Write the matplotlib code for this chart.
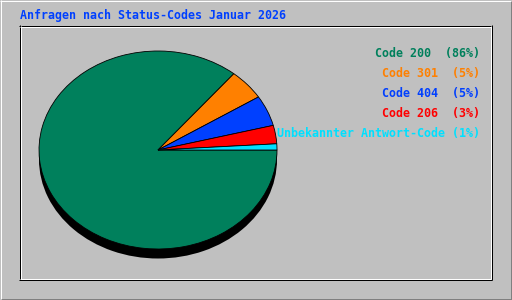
import matplotlib
matplotlib.use("Agg")
import matplotlib.pyplot as plt

title = "Anfragen nach Status-Codes Januar 2026"
labels = ["Code 200  (86%)", "Code 301  (5%)", "Code 404  (5%)", "Code 206  (3%)",
          "Unbekannter Antwort-Code (1%)"]
values = [86, 5, 5, 3, 1]
colors = ["#00805C", "#FF8000", "#0040FF", "#FF0000", "#00E0FF"]

W, H = 512, 300
fig = plt.figure(figsize=(W / 100, H / 100), dpi=100, facecolor="#C0C0C0")

# pie axes (ellipse via non-equal aspect)
pie_left, pie_right, pie_top, pie_bottom = 39, 277, 51, 260
rx_px = (pie_right - pie_left) / 2
ry_px = 99.0
axp = fig.add_axes([pie_left / W, (H - pie_bottom) / H,
                    (pie_right - pie_left) / W, (pie_bottom - pie_top) / H], zorder=1)
depth = 9.5 / ry_px
axp.pie([1], colors=["black"], radius=1, center=(0, -depth), startangle=0,
        wedgeprops=dict(linewidth=0))
axp.pie(values, colors=colors, radius=1, startangle=0, counterclock=False,
        wedgeprops=dict(edgecolor="black", linewidth=0.6))
axp.set_aspect("auto")
axp.set_xlim(-1, 1)
axp.set_ylim(1 - (pie_bottom - pie_top) / ry_px, 1)
axp.axis("off")

# overlay axes in pixel coordinates for frames and text
ax = fig.add_axes([0, 0, 1, 1], zorder=2)
ax.set_xlim(0, W)
ax.set_ylim(H, 0)
ax.axis("off")
ax.patch.set_visible(False)

lw = 0.72
def hline(y, x0, x1, c):
    ax.plot([x0, x1 + 1], [y + 0.5, y + 0.5], color=c, lw=lw, solid_capstyle="butt")
def vline(x, y0, y1, c):
    ax.plot([x + 0.5, x + 0.5], [y0, y1 + 1], color=c, lw=lw, solid_capstyle="butt")

# outer raised frame
hline(0, 0, W - 1, "white"); vline(0, 0, H - 1, "white")
hline(H - 2, 1, W - 1, "#808080"); vline(W - 2, 1, H - 1, "#808080")
hline(H - 1, 0, W - 1, "black"); vline(W - 1, 0, H - 1, "black")

# inner frame: black outer, white inner
x0, y0, x1, y1 = 19, 25, 491, 279
hline(y0, x0, x1, "black"); hline(y1, x0, x1, "black")
vline(x0, y0, y1, "black"); vline(x1, y0, y1, "black")
hline(y0 + 1, x0 + 1, x1 - 1, "white"); hline(y1 - 1, x0 + 1, x1 - 1, "white")
vline(x0 + 1, y0 + 1, y1 - 1, "white"); vline(x1 - 1, y0 + 1, y1 - 1, "white")

font = dict(family="DejaVu Sans Mono", fontweight="bold", fontsize=8.4)
ax.text(20, 15, title, color="#0040FF", ha="left", va="center", **font)
for i, (lab, c) in enumerate(zip(labels, colors)):
    ax.text(480, 54 + 20 * i, lab, color=c, ha="right", va="center", **font)

fig.savefig("out.png", dpi=100, facecolor=fig.get_facecolor())
